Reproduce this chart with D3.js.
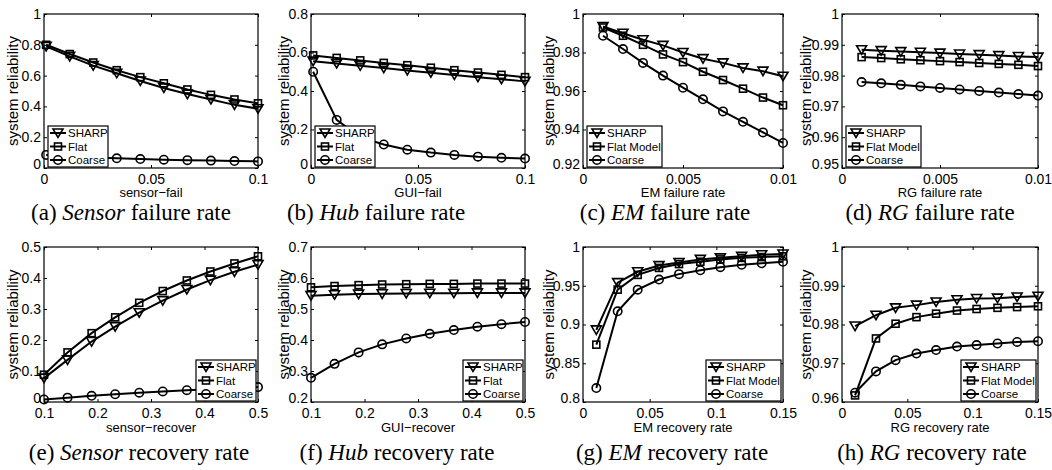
<!DOCTYPE html>
<html>
<head>
<meta charset="utf-8">
<script src="https://cdn.jsdelivr.net/npm/d3@7"></script>
<style>
  body { margin: 0; background: #fff; }
  svg { display: block; }
  .tick text { font-family: "Liberation Sans", Arial, sans-serif; font-size: 14px; fill: #000; }
  .tick line { stroke: #000; }
</style>
</head>
<body>
<svg width="1052" height="470"></svg>
<script>
// x values
let xFail      = [0.001, 0.012, 0.023, 0.034, 0.045, 0.056, 0.067, 0.078, 0.089, 0.1];
let xEmFail    = [0.001, 0.002, 0.003, 0.004, 0.005, 0.006, 0.007, 0.008, 0.009, 0.01];
let xRecover   = [0.1, 0.144, 0.189, 0.233, 0.278, 0.322, 0.367, 0.411, 0.456, 0.5];
let xEmRecover = [0.01, 0.026, 0.041, 0.057, 0.072, 0.088, 0.103, 0.119, 0.134, 0.15];

// (a) sensor failure
let sharpA  = [0.79, 0.725, 0.665, 0.615, 0.565, 0.52, 0.48, 0.445, 0.41, 0.385];
let flatA   = [0.80, 0.74, 0.685, 0.635, 0.59, 0.55, 0.51, 0.475, 0.445, 0.42];
let coarseA = [0.085, 0.075, 0.068, 0.063, 0.058, 0.054, 0.051, 0.048, 0.045, 0.043];
// (b) hub failure
let sharpB  = [0.555, 0.543, 0.531, 0.519, 0.507, 0.495, 0.483, 0.472, 0.461, 0.45];
let flatB   = [0.585, 0.572, 0.559, 0.546, 0.534, 0.521, 0.508, 0.496, 0.484, 0.472];
let coarseB = [0.5, 0.25, 0.16, 0.122, 0.095, 0.08, 0.068, 0.059, 0.053, 0.049];
// (c) EM failure
let sharpC  = [0.9935, 0.990, 0.9866, 0.9837, 0.980, 0.9768, 0.9746, 0.972, 0.9703, 0.9677];
let flatC   = [0.993, 0.9887, 0.984, 0.979, 0.975, 0.970, 0.9657, 0.9612, 0.9566, 0.9526];
let coarseC = [0.9887, 0.9818, 0.9746, 0.968, 0.9617, 0.9557, 0.9494, 0.944, 0.9385, 0.933];
// (d) RG failure
let sharpD  = [0.9884, 0.9881, 0.9878, 0.9876, 0.9873, 0.9870, 0.9868, 0.9865, 0.9862, 0.9860];
let flatD   = [0.9860, 0.9857, 0.9853, 0.9850, 0.9847, 0.9844, 0.9841, 0.9838, 0.9835, 0.9831];
let coarseD = [0.9779, 0.9775, 0.9770, 0.9765, 0.9760, 0.9755, 0.9750, 0.9745, 0.9740, 0.9735];
// (e) sensor recovery
let sharpE  = [0.077, 0.136, 0.195, 0.243, 0.288, 0.327, 0.363, 0.393, 0.42, 0.443];
let flatE   = [0.088, 0.16, 0.222, 0.273, 0.32, 0.358, 0.392, 0.421, 0.447, 0.47];
let coarseE = [0.008, 0.014, 0.02, 0.025, 0.03, 0.034, 0.038, 0.041, 0.044, 0.048];
// (f) hub recovery
let sharpF  = [0.543, 0.546, 0.548, 0.549, 0.550, 0.551, 0.551, 0.552, 0.552, 0.552];
let flatF   = [0.570, 0.574, 0.577, 0.579, 0.580, 0.581, 0.581, 0.582, 0.582, 0.582];
let coarseF = [0.278, 0.323, 0.36, 0.386, 0.405, 0.42, 0.432, 0.443, 0.451, 0.458];
// (g) EM recovery
let sharpG  = [0.893, 0.954, 0.968, 0.976, 0.980, 0.984, 0.986, 0.988, 0.990, 0.991];
let flatG   = [0.874, 0.945, 0.964, 0.973, 0.978, 0.981, 0.984, 0.986, 0.987, 0.988];
let coarseG = [0.818, 0.917, 0.945, 0.958, 0.965, 0.970, 0.974, 0.977, 0.979, 0.981];
// (h) RG recovery
let sharpH  = [0.9796, 0.9824, 0.9843, 0.985, 0.9858, 0.9864, 0.9867, 0.9868, 0.9871, 0.9873];
let flatH   = [0.9617, 0.9764, 0.9802, 0.9819, 0.9828, 0.9836, 0.984, 0.9843, 0.9845, 0.9847];
let coarseH = [0.9624, 0.9679, 0.9708, 0.9725, 0.9734, 0.9743, 0.9747, 0.9751, 0.9755, 0.9757];

// tick labels
let xTicksFail      = [0, 0.05, 0.1];
let xTicksEmFail    = [0, 0.005, 0.01];
let xTicksRecover   = [0.1, 0.2, 0.3, 0.4, 0.5];
let xTicksEmRecover = [0, 0.05, 0.1, 0.15];
let yTicksA = [0, 0.2, 0.4, 0.6, 0.8, 1];
let yTicksB = [0, 0.2, 0.4, 0.6, 0.8];
let yTicksC = [0.92, 0.94, 0.96, 0.98, 1];
let yTicksD = [0.95, 0.96, 0.97, 0.98, 0.99, 1];
let yTicksE = [0, 0.1, 0.2, 0.3, 0.4, 0.5];
let yTicksF = [0.2, 0.3, 0.4, 0.5, 0.6, 0.7];
let yTicksG = [0.8, 0.85, 0.9, 0.95, 1];
let yTicksH = [0.96, 0.97, 0.98, 0.99, 1];

let xLabels = ['sensor\u2212fail', 'GUI\u2212fail', 'EM failure rate', 'RG failure rate',
               'sensor\u2212recover', 'GUI\u2212recover', 'EM recovery rate', 'RG recovery rate'];
let captions = [['(a) ', 'Sensor', ' failure rate'], ['(b) ', 'Hub', ' failure rate'],
                ['(c) ', 'EM', ' failure rate'], ['(d) ', 'RG', ' failure rate'],
                ['(e) ', 'Sensor', ' recovery rate'], ['(f) ', 'Hub', ' recovery rate'],
                ['(g) ', 'EM', ' recovery rate'], ['(h) ', 'RG', ' recovery rate']];
let seriesNames = ['SHARP', 'Flat', 'Coarse'];
let seriesNamesModel = ['SHARP', 'Flat Model', 'Coarse'];
let markers = ['tri', 'square', 'circle'];

let panels = [
    {x: xFail, ys: [sharpA, flatA, coarseA], xt: xTicksFail, yt: yTicksA, names: seriesNames},
    {x: xFail, ys: [sharpB, flatB, coarseB], xt: xTicksFail, yt: yTicksB, names: seriesNames},
    {x: xEmFail, ys: [sharpC, flatC, coarseC], xt: xTicksEmFail, yt: yTicksC, names: seriesNamesModel},
    {x: xEmFail, ys: [sharpD, flatD, coarseD], xt: xTicksEmFail, yt: yTicksD, names: seriesNamesModel},
    {x: xRecover, ys: [sharpE, flatE, coarseE], xt: xTicksRecover, yt: yTicksE, names: seriesNames},
    {x: xRecover, ys: [sharpF, flatF, coarseF], xt: xTicksRecover, yt: yTicksF, names: seriesNames},
    {x: xEmRecover, ys: [sharpG, flatG, coarseG], xt: xTicksEmRecover, yt: yTicksG, names: seriesNamesModel},
    {x: xEmRecover, ys: [sharpH, flatH, coarseH], xt: xTicksEmRecover, yt: yTicksH, names: seriesNamesModel}
];

// layout
let cols = [
    {left: 44, right: 258, ylab: 31},
    {left: 311, right: 525, ylab: 27},
    {left: 583, right: 783, ylab: 34},
    {left: 842, right: 1038, ylab: 36}
];
let rows = [
    {top: 14, bottom: 168, xlab: 29, cap: 220, legend: 'left'},
    {top: 247, bottom: 402, xlab: 30, cap: 460, legend: 'right'}
];
let capCenters = [131, 376, 665, 930, 139, 397, 672, 932];

let svg = d3.select('svg');
let sans = '"Liberation Sans", Arial, sans-serif';
let fmt = v => String(+v.toFixed(4));

function marker(sel, kind) {
    if (kind === 'circle') {
        sel.append('circle').attr('r', 4.2);
    } else if (kind === 'square') {
        sel.append('rect').attr('x', -3.5).attr('y', -3.5).attr('width', 7).attr('height', 7);
    } else {
        sel.append('path').attr('d', 'M-5,-4L5,-4L0,4.5Z');
    }
}

panels.forEach(function(p, i) {
    let col = cols[i % 4];
    let row = rows[Math.floor(i / 4)];
    let g = svg.append('g');

    let x = d3.scaleLinear()
        .domain([p.xt[0], p.xt[p.xt.length - 1]])
        .range([col.left, col.right]);
    let y = d3.scaleLinear()
        .domain([p.yt[0], p.yt[p.yt.length - 1]])
        .range([row.bottom, row.top]);

    // axes, ticks inward like matlab
    g.append('g').attr('transform', `translate(0,${row.bottom})`)
        .call(d3.axisBottom(x).tickValues(p.xt).tickFormat(fmt).tickSize(-3).tickPadding(6));
    let yAxis = g.append('g').attr('transform', `translate(${col.left},0)`)
        .call(d3.axisLeft(y).tickValues(p.yt).tickFormat(fmt).tickSize(-3).tickPadding(3));
    // lift the lowest y label a bit so it clears the first x label
    yAxis.selectAll('.tick text').filter(d => d === p.yt[0]).attr('y', -4);
    g.append('g').attr('transform', `translate(0,${row.top})`)
        .call(d3.axisTop(x).tickValues(p.xt).tickFormat('').tickSize(-3));
    g.append('g').attr('transform', `translate(${col.right},0)`)
        .call(d3.axisRight(y).tickValues(p.yt).tickFormat('').tickSize(-3));
    g.selectAll('.domain').remove();

    g.append('rect')
        .attr('x', col.left).attr('y', row.top)
        .attr('width', col.right - col.left).attr('height', row.bottom - row.top)
        .attr('fill', 'none').attr('stroke', '#000').attr('stroke-width', 1.2);

    let line = d3.line().x(d => x(d[0])).y(d => y(d[1]));

    p.ys.forEach(function(vals, k) {
        let pts = p.x.map((xv, j) => [xv, vals[j]]);
        g.append('path')
            .attr('d', line(pts))
            .attr('fill', 'none').attr('stroke', '#000').attr('stroke-width', 2);
        g.selectAll(null).data(pts).enter().append('g')
            .attr('transform', d => `translate(${x(d[0])},${y(d[1])})`)
            .attr('fill', 'none').attr('stroke', '#000').attr('stroke-width', 1.6)
            .each(function() { marker(d3.select(this), markers[k]); });
    });

    // legend
    let lw = p.names[1] === 'Flat' ? 60 : 75;
    let lh = 41;
    let lx = row.legend === 'left' ? col.left + 4 : col.right - lw - 2;
    let ly = row.bottom - lh - 1;
    let clipId = 'leg' + i;
    g.append('clipPath').attr('id', clipId).append('rect')
        .attr('x', lx).attr('y', ly).attr('width', lw).attr('height', lh);
    let leg = g.append('g');
    leg.append('rect')
        .attr('x', lx).attr('y', ly).attr('width', lw).attr('height', lh)
        .attr('fill', '#fff').attr('stroke', '#000').attr('stroke-width', 1.2);
    p.names.forEach(function(name, k) {
        let ry = ly + 7 + k * 13.5;
        leg.append('line')
            .attr('x1', lx + 2).attr('x2', lx + 18).attr('y1', ry).attr('y2', ry)
            .attr('stroke', '#000').attr('stroke-width', 2);
        let m = leg.append('g').attr('transform', `translate(${lx + 10},${ry})`)
            .attr('fill', 'none').attr('stroke', '#000').attr('stroke-width', 1.6);
        marker(m, markers[k]);
        leg.append('text')
            .attr('x', lx + 20).attr('y', ry).attr('dy', '0.36em')
            .attr('clip-path', `url(#${clipId})`)
            .style('font-family', sans).style('font-size', '11.5px')
            .text(name);
    });

    // axis labels
    g.append('text')
        .attr('x', (col.left + col.right) / 2).attr('y', row.bottom + row.xlab)
        .attr('text-anchor', 'middle')
        .style('font-family', sans).style('font-size', '13px')
        .text(xLabels[i]);
    g.append('text')
        .attr('transform', `translate(${col.left - col.ylab + 5},${(row.top + row.bottom) / 2}) rotate(-90)`)
        .attr('text-anchor', 'middle')
        .style('font-family', sans).style('font-size', '15px')
        .text('system reliability');

    // caption
    let cap = g.append('text')
        .attr('x', capCenters[i]).attr('y', row.cap)
        .attr('text-anchor', 'middle')
        .style('font-family', '"Liberation Serif", "Times New Roman", serif')
        .style('font-size', '23px');
    cap.append('tspan').text(captions[i][0]);
    cap.append('tspan').style('font-style', 'italic').text(captions[i][1]);
    cap.append('tspan').text(captions[i][2]);
});
</script>
</body>
</html>
